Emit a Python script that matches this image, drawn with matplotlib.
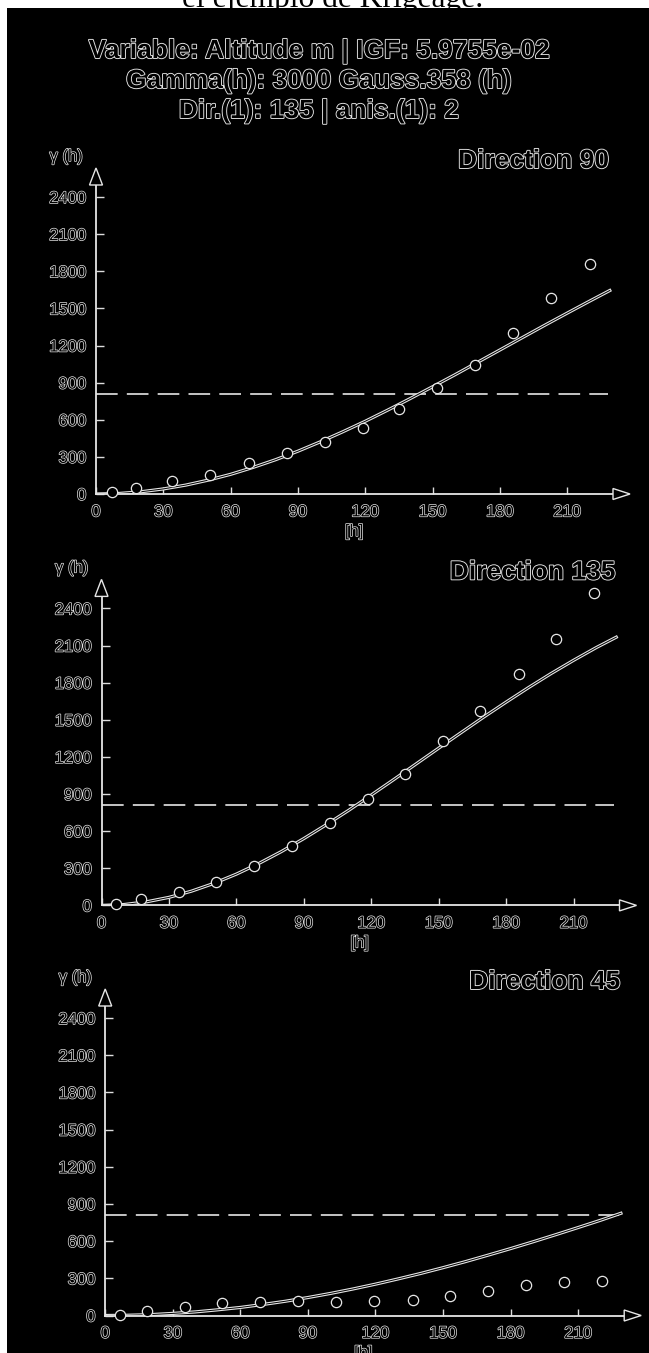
import matplotlib
matplotlib.use("Agg")
import matplotlib.pyplot as plt
from matplotlib import patheffects as pe
from matplotlib.patches import Rectangle, Polygon

# ---------------- data ----------------
title_lines = ["Variable: Altitude m | IGF: 5.9755e-02",
               "Gamma(h): 3000 Gauss.358 (h)",
               "Dir.(1): 135 | anis.(1): 2"]
directions = ["Direction 90", "Direction 135", "Direction 45"]

x_ticks = [0, 30, 60, 90, 120, 150, 180, 210]
y_ticks = [0, 300, 600, 900, 1200, 1500, 1800, 2100, 2400]

# experimental variogram points
lags_90 = [7, 18, 34, 51, 68, 85, 102, 119, 135, 152, 169, 186, 203, 220]
gam_90 = [14, 46, 105, 154, 248, 329, 423, 531, 684, 854, 1043, 1299, 1587, 1859]
lags_135 = [6.5, 17.7, 34.3, 51, 67.8, 84.7, 101.5, 118.4, 134.8, 151.8, 168.5, 185.6, 202.4, 219.3]
gam_135 = [11, 49, 111, 191, 318, 480, 663, 857, 1061, 1328, 1573, 1869, 2157, 2529]
lags_45 = [6.4, 18.6, 35.3, 51.9, 68.6, 85.6, 102.3, 119.2, 136.5, 153.2, 169.9, 187, 203.8, 220.8]
gam_45 = [8, 35, 67, 97, 110, 121, 110, 115, 129, 156, 201, 244, 271, 276]

# fitted model curves
model_h = [0, 10, 20, 30, 40, 50, 60, 70, 80, 90, 100, 110, 120, 130, 140,
           150, 160, 170, 180, 190, 200, 210, 220, 229]
model_90 = [0, 4, 18, 41, 72, 112, 159, 215, 277, 346, 422, 503, 588, 678, 771,
            867, 964, 1064, 1164, 1264, 1364, 1462, 1559, 1645]
model_135 = [0, 7, 29, 65, 115, 178, 253, 339, 435, 540, 652, 769, 892, 1017, 1144,
             1271, 1397, 1522, 1643, 1761, 1874, 1981, 2083, 2168]
model_45 = [0, 2, 7, 17, 29, 46, 65, 89, 115, 145, 178, 214, 253, 295, 339,
            386, 435, 487, 540, 595, 652, 710, 769, 825]

# dashed reference level (variance)
sill_h = [0, 228]
sill_value = 810

# ---------------- figure ----------------
W, H = 649, 1353
fig = plt.figure(figsize=(W / 100, H / 100), dpi=100, facecolor="white")

def hollow(lw=1.2):
    return [pe.withStroke(linewidth=lw, foreground="#e8e8e8")]

# clipped caption from the page above
fig.text(182 / W, 1 - 7 / H, "el ejemplo de Krigeage.", family="Liberation Serif",
         fontsize=22.7, color="black", ha="left", va="baseline", zorder=-2)
# black scanned area
fig.patches.append(Rectangle((7 / W, 0), 1 - 7 / W, 1 - 8 / H, transform=fig.transFigure,
                             facecolor="black", edgecolor="none", zorder=-1))

for yb, line in zip([58, 88, 118], title_lines):
    fig.text(319 / W, 1 - yb / H, line, family="Liberation Sans", weight="bold",
             fontsize=19, color="black", ha="center", va="baseline",
             path_effects=hollow(1.3))

XMAX, YMAX = 238, 2635
# axes rectangles in pixels: left, bottom(from top), width, height
panels = [
    (96.0, 494.0, 534, 326, directions[0], lags_90, gam_90, model_90),
    (101.5, 905.4, 535, 326, directions[1], lags_135, gam_135, model_135),
    (105.2, 1315.5, 536, 326.5, directions[2], lags_45, gam_45, model_45),
]

for (l, b, w, h, dname, lags, gam, model) in panels:
    ax = fig.add_axes([l / W, 1 - b / H, w / W, h / H])
    ax.set_xlim(0, XMAX)
    ax.set_ylim(0, YMAX)
    ax.patch.set_visible(False)
    for s in ax.spines.values():
        s.set_visible(False)
    ax.set_xticks(x_ticks)
    ax.set_yticks(y_ticks)
    ax.tick_params(direction="in", length=5.4, width=1.0, color="#dddddd", labelsize=12)
    ax.tick_params(axis="y", pad=7)
    ax.tick_params(axis="x", pad=7.5)
    for lbl in ax.get_xticklabels() + ax.get_yticklabels():
        lbl.set_color("black")
        lbl.set_family("Liberation Sans")
        lbl.set_path_effects(hollow(1.0))

    sx = w / XMAX
    sy = h / YMAX
    # x axis with arrow
    hlx, hwx = 17 / sx, 5.5 / sy
    ax.plot([0, XMAX - hlx], [0, 0], color="#e6e6e6", lw=1.3, clip_on=False, zorder=3)
    ax.add_patch(Polygon([(XMAX - hlx, -hwx), (XMAX, 0), (XMAX - hlx, hwx)], closed=True,
                         facecolor="black", edgecolor="#e6e6e6", lw=1.0, clip_on=False, zorder=3))
    # y axis with arrow
    hly, hwy = 17 / sy, 6.5 / sx
    ax.plot([0, 0], [0, YMAX - hly], color="#e6e6e6", lw=1.3, clip_on=False, zorder=3)
    ax.add_patch(Polygon([(-hwy, YMAX - hly), (0, YMAX), (hwy, YMAX - hly)], closed=True,
                         facecolor="black", edgecolor="#e6e6e6", lw=1.0, clip_on=False, zorder=3))

    # dashed level
    ax.plot(sill_h, [sill_value, sill_value], color="#e6e6e6", lw=1.2,
            linestyle=(0, (13, 5.5)), zorder=2)
    # model curve (hollow look)
    ax.plot(model_h, model, color="black", lw=0.7, zorder=2,
            path_effects=[pe.Stroke(linewidth=2.3, foreground="#e6e6e6"), pe.Normal()])
    # experimental points
    ax.plot(lags, gam, "o", ms=7.4, mfc="black", mec="#e6e6e6", mew=0.9,
            clip_on=False, zorder=4)

    ax.annotate("γ (h)", xy=(0, 1), xycoords="axes fraction", xytext=(-13, 7),
                textcoords="offset pixels", ha="right", va="baseline",
                family="Liberation Sans", fontsize=12, color="black",
                path_effects=hollow(1.0))
    ax.annotate(dname, xy=(1, 1), xycoords="axes fraction", xytext=(-21, 0),
                textcoords="offset pixels", ha="right", va="baseline",
                family="Liberation Sans", weight="bold", fontsize=19, color="black",
                path_effects=hollow(1.3))
    ax.annotate("[h]", xy=(0, 0), xycoords="axes fraction", xytext=(258, -42),
                textcoords="offset pixels", ha="center", va="baseline",
                family="Liberation Sans", fontsize=12, color="black",
                path_effects=hollow(1.0))

fig.savefig("out.png", dpi=100, facecolor="white")
